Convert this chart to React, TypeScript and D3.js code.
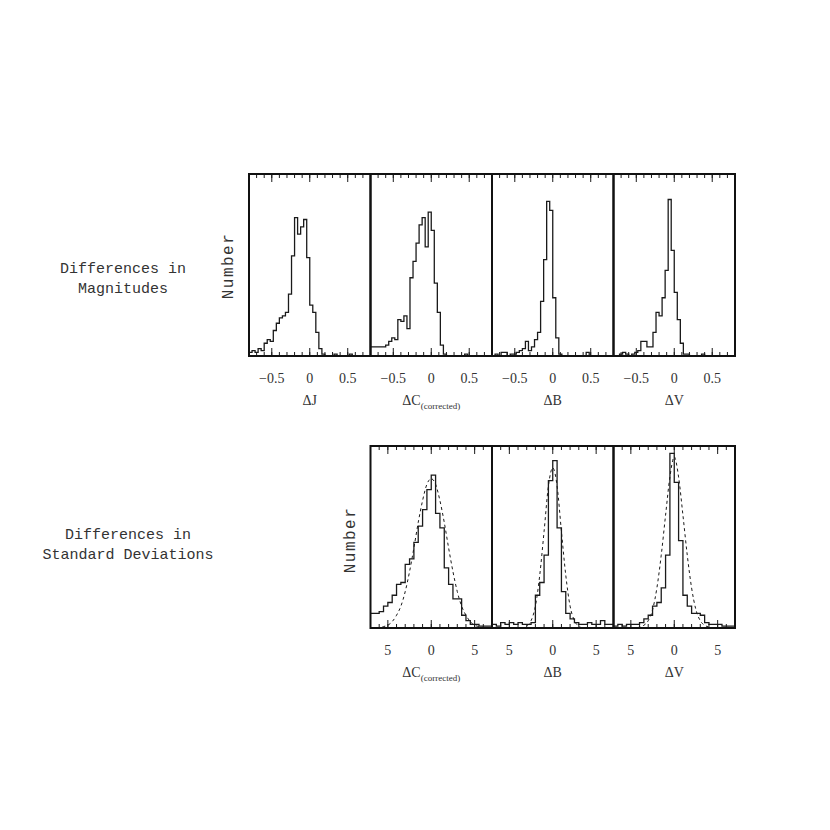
import React from "react";
import * as d3 from "d3";

// top row: magnitude differences, bins of 0.04 starting at -0.8
const magBinStart = -0.8;
const magBinWidth = 0.04;
const magTicksMajor = [-0.5, 0, 0.5];
const magTickLabels = ["\u22120.5", "0", "0.5"];

const deltaJ = [2, 3, 2, 4, 3, 7, 9, 8, 14, 18, 21, 22, 24, 34, 55, 76, 67, 71, 75, 54, 28, 24, 13, 4, 1, 0, 0, 0, 1, 0, 0, 0, 0, 1, 0, 0, 0, 0, 0, 0];
const deltaC = [5, 5, 5, 5, 5, 6, 8, 10, 9, 20, 19, 22, 15, 43, 52, 62, 72, 76, 60, 79, 69, 40, 24, 6, 1, 0, 0, 0, 0, 0, 0, 1, 0, 0, 0, 0, 0, 0, 0, 0];
const deltaB = [0, 1, 0, 2, 2, 0, 1, 1, 2, 3, 4, 8, 3, 5, 9, 13, 30, 53, 85, 80, 32, 10, 1, 0, 0, 0, 0, 0, 0, 0, 0, 2, 0, 0, 0, 0, 0, 0, 0, 0];
const deltaV = [0, 0, 1, 2, 1, 0, 1, 2, 3, 8, 8, 5, 5, 13, 24, 22, 32, 47, 86, 58, 35, 20, 7, 1, 1, 0, 0, 0, 0, 1, 0, 0, 0, 0, 0, 0, 0, 0, 0, 0];

// bottom row: differences in standard deviations, bins of 0.5 starting at -7
const sigBinStart = -7;
const sigBinWidth = 0.5;
const sigTicksMajor = [-5, 0, 5];
const sigTickLabels = ["5", "0", "5"];

const sigC = [8, 8, 9, 12, 14, 18, 24, 25, 35, 38, 47, 56, 65, 76, 84, 63, 55, 33, 24, 16, 16, 7, 4, 2, 2, 1, 1, 1];
const sigB = [2, 1, 3, 2, 3, 2, 3, 2, 2, 3, 18, 25, 40, 81, 92, 55, 20, 8, 5, 3, 2, 2, 3, 2, 2, 4, 2, 2];
const sigV = [1, 2, 1, 2, 2, 2, 3, 5, 7, 12, 14, 22, 40, 96, 80, 48, 18, 12, 8, 8, 7, 3, 2, 2, 2, 1, 1, 1];

// dashed reference curves, read at x = -7, -6.5, ... 7
const gaussX = [-7, -6.5, -6, -5.5, -5, -4.5, -4, -3.5, -3, -2.5, -2, -1.5, -1, -0.5, 0, 0.5, 1, 1.5, 2, 2.5, 3, 3.5, 4, 4.5, 5, 5.5, 6, 6.5, 7];
const gaussC = [0, 0, 0.3, 0.8, 1.5, 3.5, 7, 12, 20, 31, 44, 58, 70, 79, 82, 79, 70, 58, 44, 31, 20, 12, 7, 3.5, 1.5, 0.8, 0.3, 0, 0];
const gaussB = [0, 0, 0, 0, 0, 0, 0, 0, 1, 4, 12, 29, 53, 78, 88, 78, 53, 29, 12, 4, 1, 0, 0, 0, 0, 0, 0, 0, 0];
const gaussV = [0, 0, 0, 0, 0, 0, 0.5, 1.5, 4, 10, 22, 40, 62, 83, 94, 83, 62, 40, 22, 10, 4, 1.5, 0.5, 0, 0, 0, 0, 0, 0];

const topPanels = [
  { values: deltaJ, title: "\u0394J", sub: "" },
  { values: deltaC, title: "\u0394C", sub: "(corrected)" },
  { values: deltaB, title: "\u0394B", sub: "" },
  { values: deltaV, title: "\u0394V", sub: "" },
];
const bottomPanels = [
  { values: sigC, gauss: gaussC, title: "\u0394C", sub: "(corrected)" },
  { values: sigB, gauss: gaussB, title: "\u0394B", sub: "" },
  { values: sigV, gauss: gaussV, title: "\u0394V", sub: "" },
];

const panelW = 121.5;
const panelH = 182;
const ink = "#1a1a1a";
const mono = "'Liberation Mono', 'DejaVu Sans Mono', monospace";
const serif = "'Liberation Serif', 'DejaVu Serif', serif";

type PanelProps = {
  x0: number;
  y0: number;
  values: number[];
  binStart: number;
  binWidth: number;
  domain: [number, number];
  majors: number[];
  majorLabels: string[];
  minorStep: number;
  gauss?: number[];
  title: string;
  sub: string;
};

const Panel = ({ x0, y0, values, binStart, binWidth, domain, majors, majorLabels, minorStep, gauss, title, sub }: PanelProps) => {
  const x = d3.scaleLinear().domain(domain).range([x0, x0 + panelW]);
  const y = d3.scaleLinear().domain([0, 100]).range([y0 + panelH, y0]);

  const pts: [number, number][] = values.map((v, i) => [binStart + i * binWidth, v]);
  pts.push([binStart + values.length * binWidth, values[values.length - 1]]);
  const step = d3
    .line<[number, number]>()
    .x((d) => x(d[0]))
    .y((d) => y(d[1]))
    .curve(d3.curveStepAfter);

  const gline = d3
    .line<number>()
    .x((_, i) => x(gaussX[i]))
    .y((d) => y(d))
    .curve(d3.curveMonotoneX);

  const minors = d3.range(Math.ceil(domain[0] / minorStep) * minorStep, domain[1] + 1e-9, minorStep);
  const yb = y0 + panelH;

  return (
    <g>
      <defs>
        <clipPath id={`clip-${x0}-${y0}`}>
          <rect x={x0} y={y0} width={panelW} height={panelH} />
        </clipPath>
      </defs>
      <g clipPath={`url(#clip-${x0}-${y0})`}>
        {gauss && (
          <path d={gline(gauss) || ""} fill="none" stroke={ink} strokeWidth={1} strokeDasharray="3,3" />
        )}
        <path d={step(pts) || ""} fill="none" stroke={ink} strokeWidth={1.3} />
      </g>
      {minors.map((t, i) => (
        <g key={"m" + i}>
          <line x1={x(t)} x2={x(t)} y1={y0} y2={y0 + 4} stroke={ink} strokeWidth={1} />
          <line x1={x(t)} x2={x(t)} y1={yb} y2={yb - 4} stroke={ink} strokeWidth={1} />
        </g>
      ))}
      {majors.map((t, i) => (
        <g key={"M" + i}>
          <line x1={x(t)} x2={x(t)} y1={y0} y2={y0 + 8} stroke={ink} strokeWidth={1} />
          <line x1={x(t)} x2={x(t)} y1={yb} y2={yb - 8} stroke={ink} strokeWidth={1} />
          <text x={x(t)} y={yb + 27} textAnchor="middle" fontFamily={serif} fontSize={14} fill="#333">
            {majorLabels[i]}
          </text>
        </g>
      ))}
      <rect x={x0} y={y0} width={panelW} height={panelH} fill="none" stroke="#111" strokeWidth={2} />
      <text x={x0 + panelW / 2} y={yb + 49} textAnchor="middle" fontFamily={serif} fontSize={14} fill="#333">
        {title}
        {sub && (
          <tspan fontSize={9} dy={4}>
            {sub}
          </tspan>
        )}
      </text>
    </g>
  );
};

export default function App() {
  const topX = [249, 370.5, 492, 613.5];
  const botX = [370.5, 492, 613.5];
  const topY = 174;
  const botY = 446;

  return (
    <svg width={830} height={830} style={{ position: "absolute", left: 0, top: 0, background: "#fff" }}>
      {topPanels.map((p, i) => (
        <Panel
          key={"t" + i}
          x0={topX[i]}
          y0={topY}
          values={p.values}
          binStart={magBinStart}
          binWidth={magBinWidth}
          domain={[-0.8, 0.8]}
          majors={magTicksMajor}
          majorLabels={magTickLabels}
          minorStep={0.1}
          title={p.title}
          sub={p.sub}
        />
      ))}
      {bottomPanels.map((p, i) => (
        <Panel
          key={"b" + i}
          x0={botX[i]}
          y0={botY}
          values={p.values}
          binStart={sigBinStart}
          binWidth={sigBinWidth}
          domain={[-7, 7]}
          majors={sigTicksMajor}
          majorLabels={sigTickLabels}
          minorStep={1}
          gauss={p.gauss}
          title={p.title}
          sub={p.sub}
        />
      ))}

      <text transform="translate(233,266) rotate(-90)" textAnchor="middle" fontFamily={mono} fontSize={16} letterSpacing={1.5} fill="#333">
        Number
      </text>
      <text transform="translate(355,540) rotate(-90)" textAnchor="middle" fontFamily={mono} fontSize={16} letterSpacing={1.5} fill="#333">
        Number
      </text>

      <g fontFamily={mono} fontSize={15} fill="#333" textAnchor="middle">
        <text x={123} y={273}>Differences in</text>
        <text x={123} y={293}>Magnitudes</text>
        <text x={128} y={539}>Differences in</text>
        <text x={128} y={559}>Standard Deviations</text>
      </g>
    </svg>
  );
}
